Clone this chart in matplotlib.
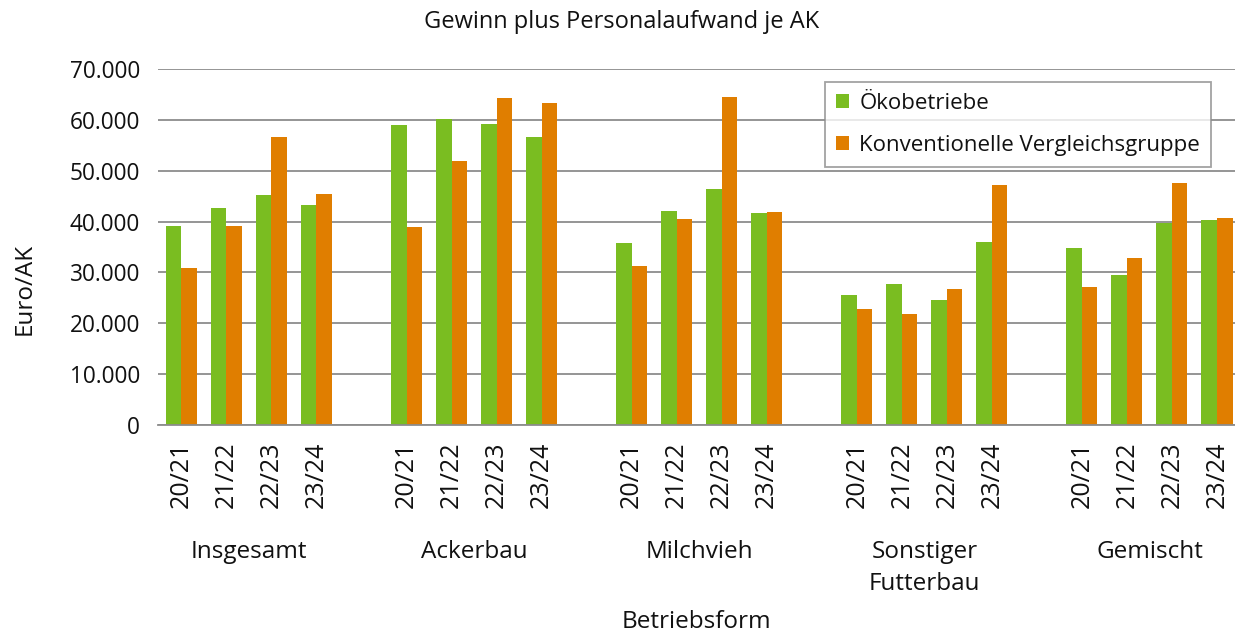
import matplotlib
matplotlib.use("Agg")
import matplotlib.pyplot as plt
import matplotlib.transforms as mtransforms
from matplotlib.ticker import FuncFormatter, MultipleLocator

groups = ["Insgesamt", "Ackerbau", "Milchvieh", "Sonstiger\nFutterbau", "Gemischt"]
years = ["20/21", "21/22", "22/23", "23/24"]
oeko = [
    [39100, 42600, 45200, 43300],
    [59000, 60100, 59200, 56700],
    [35700, 42000, 46400, 41600],
    [25500, 27800, 24500, 36000],
    [34900, 29400, 39700, 40300],
]
konv = [
    [30800, 39100, 56600, 45400],
    [39000, 51900, 64300, 63300],
    [31300, 40500, 64500, 41800],
    [22900, 21900, 26700, 47100],
    [27100, 32900, 47600, 40800],
]
series_names = ["Ökobetriebe", "Konventionelle Vergleichsgruppe"]
colors = ["#7ABD21", "#E07E00"]

plt.rcParams['font.family'] = ['Open Sans', 'DejaVu Sans']

W, H = 1235, 635
fig = plt.figure(figsize=(W/100, H/100), dpi=100)
ax_left, ax_right, ax_bottom, ax_top = 158, 1235, 425, 69
ax = fig.add_axes([ax_left/W, 1-ax_bottom/H, (ax_right-ax_left)/W, (ax_bottom-ax_top)/H])

w = 0.345
xs, labels = [], []
for g in range(len(groups)):
    for y in range(len(years)):
        slot = g*5 + y
        xs.append(slot)
        labels.append(years[y])
        ax.bar(slot - w/2, oeko[g][y], width=w, color=colors[0], zorder=3,
               label=series_names[0] if (g == 0 and y == 0) else None)
        ax.bar(slot + w/2, konv[g][y], width=w, color=colors[1], zorder=3,
               label=series_names[1] if (g == 0 and y == 0) else None)

ax.set_xlim(-0.52, 23.4)
ax.set_ylim(0, 70000)
ax.yaxis.set_major_locator(MultipleLocator(10000))
ax.yaxis.set_major_formatter(FuncFormatter(lambda v, p: f"{int(v):,}".replace(",", ".")))
ax.grid(axis='y', color='#8c8c8c', linewidth=1.3, zorder=0)
for s in ['top', 'right', 'left']:
    ax.spines[s].set_visible(False)
ax.spines['bottom'].set_color('#8c8c8c')
ax.spines['bottom'].set_linewidth(1.3)
ax.spines['bottom'].set_zorder(4)
ax.set_xticks(xs)
ax.set_xticklabels(labels, rotation=90, fontsize=18, color='#111111')
ax.tick_params(axis='x', length=0, pad=12)
ax.tick_params(axis='y', length=0, labelsize=16.3, pad=13, labelcolor='#111111')

trans = mtransforms.blended_transform_factory(ax.transData, fig.transFigure)
for g, name in enumerate(groups):
    cx = g*5 + 1.5
    ax.text(cx, 1-540/H, name, transform=trans, ha='center', va='top',
            fontsize=17.5, linespacing=1.45, color='#111111')

fig.text((ax_left+ax_right)/2/W, 1-622/H, "Betriebsform", ha='center', va='center',
         fontsize=17.5, color='#111111')
fig.text(25/W, 1-289/H, "Euro/AK", rotation=90, ha='center', va='center',
         fontsize=17.5, color='#111111')
fig.text(622/W, 1-22/H, "Gewinn plus Personalaufwand je AK", ha='center', va='center',
         fontsize=17, color='#111111')

leg = ax.legend(loc='upper right', bbox_to_anchor=((1211-ax_left)/(ax_right-ax_left),
                                                   (ax_bottom-82)/(ax_bottom-ax_top)),
                frameon=True, fancybox=False, fontsize=16, handlelength=0.6,
                handleheight=0.6, handletextpad=0.45, labelspacing=0.95,
                borderpad=0.5, borderaxespad=0)
leg.get_frame().set_edgecolor('#8c8c8c')
leg.get_frame().set_linewidth(1.3)
for t in leg.get_texts():
    t.set_color('#111111')

fig.savefig("out.png", dpi=100)
